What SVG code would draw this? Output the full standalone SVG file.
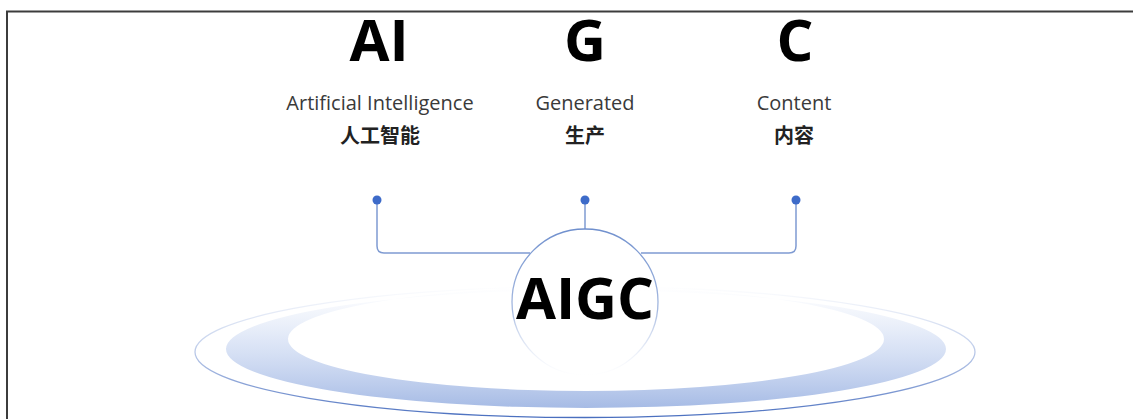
<svg xmlns="http://www.w3.org/2000/svg" width="1133" height="419" viewBox="0 0 1133 419">
  <defs>
    <style>
      .big { font-family: "Open Sans", "Liberation Sans", sans-serif; font-weight: 700; font-size: 58px; fill: #000; text-anchor: middle; }
      .en { font-family: "Open Sans", "Liberation Sans", sans-serif; font-size: 20px; fill: #3a3a3a; text-anchor: middle; }
      .zh { font-family: "Noto Sans CJK SC", "Noto Sans", sans-serif; font-weight: 700; font-size: 20px; fill: #222; text-anchor: middle; }
      .wire { fill: none; stroke: #7f9bd2; stroke-width: 1.5; }
      .dot { fill: #3d6bc9; }
    </style>
    <linearGradient id="bandFill" x1="0" y1="0" x2="0" y2="1">
      <stop offset="0" stop-color="#dfe7f7" stop-opacity="0"/>
      <stop offset="0.45" stop-color="#d3def4" stop-opacity="0.75"/>
      <stop offset="1" stop-color="#a6bbe5"/>
    </linearGradient>
    <linearGradient id="rimStroke" x1="0" y1="0" x2="0" y2="1">
      <stop offset="0" stop-color="#9fb4e0" stop-opacity="0"/>
      <stop offset="0.4" stop-color="#9fb4e0" stop-opacity="0.55"/>
      <stop offset="1" stop-color="#4a6fbf"/>
    </linearGradient>
    <linearGradient id="hubStroke" x1="0" y1="0" x2="0" y2="1">
      <stop offset="0" stop-color="#6f8fcd"/>
      <stop offset="0.55" stop-color="#8ea7d8" stop-opacity="0.8"/>
      <stop offset="1" stop-color="#c9d5ee" stop-opacity="0"/>
    </linearGradient>
    <linearGradient id="hubFill" x1="0" y1="0" x2="0" y2="1">
      <stop offset="0" stop-color="#fff"/>
      <stop offset="0.7" stop-color="#fff" stop-opacity="0.9"/>
      <stop offset="1" stop-color="#fff" stop-opacity="0"/>
    </linearGradient>
  </defs>

  <rect width="1133" height="419" fill="#fff"/>

  <!-- frame -->
  <path d="M7 419 V11.5 H1133" fill="none" stroke="#3c3c3c" stroke-width="2"/>

  <!-- base platform -->
  <g id="platform">
    <ellipse cx="585" cy="352" rx="390" ry="65.5" fill="none" stroke="url(#rimStroke)" stroke-width="1.3"/>
    <path fill="url(#bandFill)" fill-rule="evenodd"
          d="M226 349 A360 59 0 1 0 946 349 A360 59 0 1 0 226 349 Z
             M288 339 A298 52 0 1 0 884 339 A298 52 0 1 0 288 339 Z"/>
  </g>

  <!-- connectors -->
  <g id="connectors">
    <path class="wire" d="M377 200 V246 Q377 253 384 253 H530"/>
    <path class="wire" d="M585 200 V229"/>
    <path class="wire" d="M796 200 V246 Q796 253 789 253 H641"/>
    <circle class="dot" cx="377" cy="200" r="4.5"/>
    <circle class="dot" cx="585" cy="200" r="4.5"/>
    <circle class="dot" cx="796" cy="200" r="4.5"/>
  </g>

  <!-- central hub -->
  <g id="hub">
    <circle cx="585" cy="302" r="73" fill="url(#hubFill)" stroke="url(#hubStroke)" stroke-width="1.3"/>
    <text class="big" x="585" y="319">AIGC</text>
  </g>

  <g id="node-ai">
    <text class="big" x="379" y="61">AI</text>
    <text class="en" x="380" y="110">Artificial Intelligence</text>
    <text class="zh" x="380" y="143">人工智能</text>
  </g>

  <g id="node-g">
    <text class="big" x="585" y="61">G</text>
    <text class="en" x="585" y="110">Generated</text>
    <text class="zh" x="585" y="143">生产</text>
  </g>

  <g id="node-c">
    <text class="big" x="795" y="61">C</text>
    <text class="en" x="794" y="110">Content</text>
    <text class="zh" x="794" y="143">内容</text>
  </g>
</svg>
